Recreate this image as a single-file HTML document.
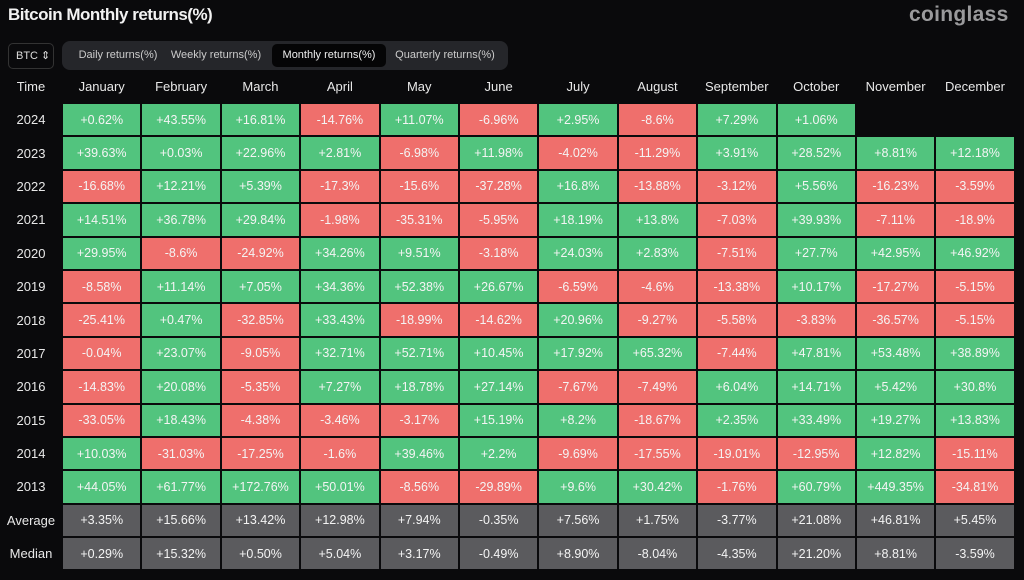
<!DOCTYPE html>
<html><head><meta charset="utf-8"><style>
*{margin:0;padding:0;box-sizing:border-box}
body{width:1024px;height:580px;background:#0a0a0c;font-family:"Liberation Sans",sans-serif;color:#e6e6e6;position:relative;overflow:hidden}
.title{position:absolute;left:8px;top:5px;font-size:17px;font-weight:bold;color:#f2f2f2;letter-spacing:-0.5px}
.logo{position:absolute;left:909px;top:3px;font-size:21px;font-weight:bold;color:#9a9a9c;letter-spacing:0.3px}
.btc{position:absolute;left:8px;top:43px;width:46px;height:26px;border:1px solid #333;border-radius:5px;font-size:11px;line-height:24px;padding-left:7px;color:#ddd}
.tabs{position:absolute;left:62px;top:41px;width:446px;height:29px;background:#25262a;border-radius:8px}
.tab{position:absolute;top:3px;height:23px;line-height:23px;font-size:11px;color:#ccc;text-align:center}
.tab.on{background:#050506;border-radius:5px;color:#eee}
.grid{position:absolute;left:1px;top:71px;display:grid;grid-template-columns:60px repeat(12,77.4px);column-gap:2px;row-gap:2px;grid-template-rows:31px repeat(14,31.4px)}
.grid div{display:flex;align-items:center;justify-content:center;font-size:12.5px;color:#f4f4f4}
.grid .h{font-size:13px;color:#e8e8e8;justify-content:center}
.g{background:#52c47e}.r{background:#ef6f6c}.a{background:#5b5b5e}
</style></head><body>
<div class="title">Bitcoin Monthly returns(%)</div>
<div class="logo">coinglass</div>
<div class="btc">BTC ⇕</div>
<div class="tabs">
<div class="tab" style="left:6px;width:100px">Daily returns(%)</div>
<div class="tab" style="left:98px;width:112px">Weekly returns(%)</div>
<div class="tab on" style="left:210px;width:114px">Monthly returns(%)</div>
<div class="tab" style="left:333px;width:100px">Quarterly returns(%)</div>
</div>
<div class="grid">
<div class="h">Time</div><div class="h">January</div><div class="h">February</div><div class="h">March</div><div class="h">April</div><div class="h">May</div><div class="h">June</div><div class="h">July</div><div class="h">August</div><div class="h">September</div><div class="h">October</div><div class="h">November</div><div class="h">December</div>
<div class="h">2024</div><div class="g">+0.62%</div><div class="g">+43.55%</div><div class="g">+16.81%</div><div class="r">-14.76%</div><div class="g">+11.07%</div><div class="r">-6.96%</div><div class="g">+2.95%</div><div class="r">-8.6%</div><div class="g">+7.29%</div><div class="g">+1.06%</div><div></div><div></div>
<div class="h">2023</div><div class="g">+39.63%</div><div class="g">+0.03%</div><div class="g">+22.96%</div><div class="g">+2.81%</div><div class="r">-6.98%</div><div class="g">+11.98%</div><div class="r">-4.02%</div><div class="r">-11.29%</div><div class="g">+3.91%</div><div class="g">+28.52%</div><div class="g">+8.81%</div><div class="g">+12.18%</div>
<div class="h">2022</div><div class="r">-16.68%</div><div class="g">+12.21%</div><div class="g">+5.39%</div><div class="r">-17.3%</div><div class="r">-15.6%</div><div class="r">-37.28%</div><div class="g">+16.8%</div><div class="r">-13.88%</div><div class="r">-3.12%</div><div class="g">+5.56%</div><div class="r">-16.23%</div><div class="r">-3.59%</div>
<div class="h">2021</div><div class="g">+14.51%</div><div class="g">+36.78%</div><div class="g">+29.84%</div><div class="r">-1.98%</div><div class="r">-35.31%</div><div class="r">-5.95%</div><div class="g">+18.19%</div><div class="g">+13.8%</div><div class="r">-7.03%</div><div class="g">+39.93%</div><div class="r">-7.11%</div><div class="r">-18.9%</div>
<div class="h">2020</div><div class="g">+29.95%</div><div class="r">-8.6%</div><div class="r">-24.92%</div><div class="g">+34.26%</div><div class="g">+9.51%</div><div class="r">-3.18%</div><div class="g">+24.03%</div><div class="g">+2.83%</div><div class="r">-7.51%</div><div class="g">+27.7%</div><div class="g">+42.95%</div><div class="g">+46.92%</div>
<div class="h">2019</div><div class="r">-8.58%</div><div class="g">+11.14%</div><div class="g">+7.05%</div><div class="g">+34.36%</div><div class="g">+52.38%</div><div class="g">+26.67%</div><div class="r">-6.59%</div><div class="r">-4.6%</div><div class="r">-13.38%</div><div class="g">+10.17%</div><div class="r">-17.27%</div><div class="r">-5.15%</div>
<div class="h">2018</div><div class="r">-25.41%</div><div class="g">+0.47%</div><div class="r">-32.85%</div><div class="g">+33.43%</div><div class="r">-18.99%</div><div class="r">-14.62%</div><div class="g">+20.96%</div><div class="r">-9.27%</div><div class="r">-5.58%</div><div class="r">-3.83%</div><div class="r">-36.57%</div><div class="r">-5.15%</div>
<div class="h">2017</div><div class="r">-0.04%</div><div class="g">+23.07%</div><div class="r">-9.05%</div><div class="g">+32.71%</div><div class="g">+52.71%</div><div class="g">+10.45%</div><div class="g">+17.92%</div><div class="g">+65.32%</div><div class="r">-7.44%</div><div class="g">+47.81%</div><div class="g">+53.48%</div><div class="g">+38.89%</div>
<div class="h">2016</div><div class="r">-14.83%</div><div class="g">+20.08%</div><div class="r">-5.35%</div><div class="g">+7.27%</div><div class="g">+18.78%</div><div class="g">+27.14%</div><div class="r">-7.67%</div><div class="r">-7.49%</div><div class="g">+6.04%</div><div class="g">+14.71%</div><div class="g">+5.42%</div><div class="g">+30.8%</div>
<div class="h">2015</div><div class="r">-33.05%</div><div class="g">+18.43%</div><div class="r">-4.38%</div><div class="r">-3.46%</div><div class="r">-3.17%</div><div class="g">+15.19%</div><div class="g">+8.2%</div><div class="r">-18.67%</div><div class="g">+2.35%</div><div class="g">+33.49%</div><div class="g">+19.27%</div><div class="g">+13.83%</div>
<div class="h">2014</div><div class="g">+10.03%</div><div class="r">-31.03%</div><div class="r">-17.25%</div><div class="r">-1.6%</div><div class="g">+39.46%</div><div class="g">+2.2%</div><div class="r">-9.69%</div><div class="r">-17.55%</div><div class="r">-19.01%</div><div class="r">-12.95%</div><div class="g">+12.82%</div><div class="r">-15.11%</div>
<div class="h">2013</div><div class="g">+44.05%</div><div class="g">+61.77%</div><div class="g">+172.76%</div><div class="g">+50.01%</div><div class="r">-8.56%</div><div class="r">-29.89%</div><div class="g">+9.6%</div><div class="g">+30.42%</div><div class="r">-1.76%</div><div class="g">+60.79%</div><div class="g">+449.35%</div><div class="r">-34.81%</div>
<div class="h">Average</div><div class="a">+3.35%</div><div class="a">+15.66%</div><div class="a">+13.42%</div><div class="a">+12.98%</div><div class="a">+7.94%</div><div class="a">-0.35%</div><div class="a">+7.56%</div><div class="a">+1.75%</div><div class="a">-3.77%</div><div class="a">+21.08%</div><div class="a">+46.81%</div><div class="a">+5.45%</div>
<div class="h">Median</div><div class="a">+0.29%</div><div class="a">+15.32%</div><div class="a">+0.50%</div><div class="a">+5.04%</div><div class="a">+3.17%</div><div class="a">-0.49%</div><div class="a">+8.90%</div><div class="a">-8.04%</div><div class="a">-4.35%</div><div class="a">+21.20%</div><div class="a">+8.81%</div><div class="a">-3.59%</div>
</div>
</body></html>
